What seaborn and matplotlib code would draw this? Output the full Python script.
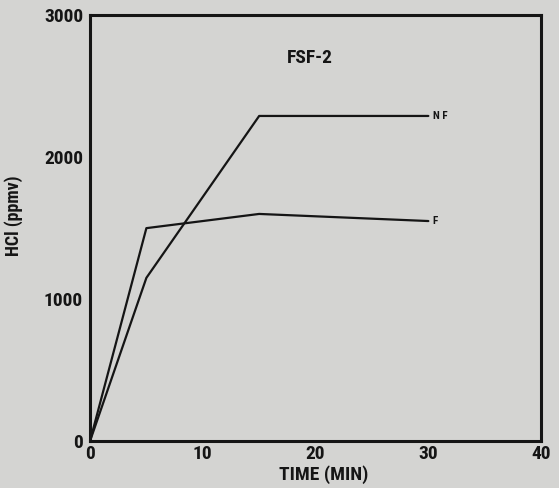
import matplotlib
matplotlib.use("Agg")
import logging
import matplotlib.pyplot as plt
import seaborn as sns
import pandas as pd

logging.getLogger("matplotlib.font_manager").setLevel(logging.ERROR)

# HCl concentration over time for test FSF-2
time_nf = [0, 5, 15, 30]
hcl_nf = [0, 1150, 2290, 2290]
time_f = [0, 5, 15, 30]
hcl_f = [0, 1500, 1600, 1550]
series_names = ["NF", "F"]
x_ticks = [0, 10, 20, 30, 40]
y_ticks = [0, 1000, 2000, 3000]

df = pd.concat([
    pd.DataFrame({"time": time_nf, "hcl": hcl_nf, "series": series_names[0]}),
    pd.DataFrame({"time": time_f, "hcl": hcl_f, "series": series_names[1]}),
])

sns.set_style("white")
bg = "#d4d4d2"
ink = "#151515"
plt.rcParams["font.family"] = ["Roboto Condensed", "PT Sans Narrow", "Archivo Narrow",
                               "Liberation Sans Narrow", "DejaVu Sans"]
plt.rcParams["font.weight"] = "bold"

fig = plt.figure(figsize=(5.59, 4.88), dpi=100, facecolor=bg)
ax = fig.add_axes([0.161, 0.096, 0.807, 0.873])
ax.set_facecolor(bg)

sns.lineplot(data=df, x="time", y="hcl", hue="series", units="series",
             estimator=None, palette=[ink, ink], linewidth=1.6,
             legend=False, ax=ax, sort=False)

ax.set_xlim(0, 40)
ax.set_ylim(0, 3000)
ax.set_xticks(x_ticks)
ax.set_yticks(y_ticks)
ax.tick_params(axis="both", direction="in", length=6, width=1.8,
               colors=ink, labelsize=14)
ax.tick_params(axis="x", pad=3)
ax.tick_params(axis="y", pad=5)
for t in ax.get_xticklabels() + ax.get_yticklabels():
    t.set_fontweight("bold")

for s in ax.spines.values():
    s.set_visible(True)
    s.set_linewidth(2.2)
    s.set_color(ink)

ax.set_xlabel("TIME (MIN)", fontsize=14, fontweight="bold", color=ink)
ax.xaxis.set_label_coords(0.519, -0.056)
ax.set_ylabel("HCl (ppmv)", fontsize=13, fontweight="bold", color=ink)
ax.yaxis.set_label_coords(-0.148, 0.53)

ax.text(19.5, 2700, "FSF-2", fontsize=14, fontweight="bold",
        ha="center", va="center", color=ink)
ax.text(30.4, hcl_nf[-1], "N F", fontsize=8, fontweight="bold",
        ha="left", va="center", color=ink)
ax.text(30.4, hcl_f[-1], "F", fontsize=8, fontweight="bold",
        ha="left", va="center", color=ink)

fig.savefig("out.png", dpi=100, facecolor=bg)
